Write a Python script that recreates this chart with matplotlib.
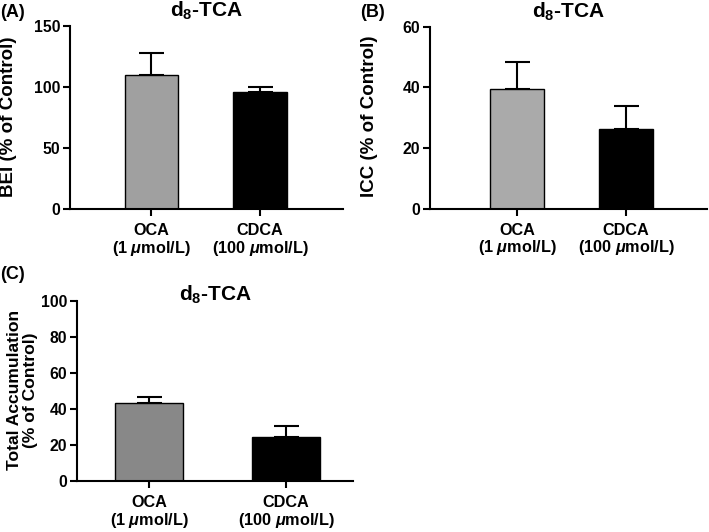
import matplotlib
matplotlib.use("Agg")
import matplotlib.pyplot as plt

plt.rcParams['font.family'] = ['Liberation Sans', 'DejaVu Sans']
plt.rcParams['font.weight'] = 'bold'
plt.rcParams['mathtext.fontset'] = 'custom'
plt.rcParams['mathtext.rm'] = 'Liberation Sans:bold'
plt.rcParams['mathtext.bf'] = 'Liberation Sans:bold'
plt.rcParams['mathtext.it'] = 'Liberation Sans:italic:bold'
plt.rcParams['mathtext.default'] = 'bf'

categories = ["OCA\n(1 $\\mathit{μ}$mol/L)", "CDCA\n(100 $\\mathit{μ}$mol/L)"]
title = "d$_{8}$-TCA"

bei_mean = [109.5, 96.0]
bei_sem = [18.0, 4.3]
icc_mean = [39.5, 26.3]
icc_sem = [9.0, 7.6]
tot_mean = [43.5, 24.4]
tot_sem = [3.2, 6.2]

W, H = 709, 532
fig = plt.figure(figsize=(W / 100, H / 100), dpi=100)


def px(x, y):
    return x / W, 1 - y / H


panels = [
    dict(box=(70, 26, 343, 209), mean=bei_mean, sem=bei_sem,
         ylim=(0, 150), yticks=[0, 50, 100, 150], xlim=(-0.751, 1.765), width=0.49,
         colors=['#a0a0a0', '#000000'], ylabel="BEI (% of Control)", ylfs=13.5,
         ylx=9, tag="(A)", tagxy=(0, 12.5), title_base=17),
    dict(box=(430, 26.7, 707, 208.7), mean=icc_mean, sem=icc_sem,
         ylim=(0, 60), yticks=[0, 20, 40, 60], xlim=(-0.798, 1.743), width=0.495,
         colors=['#aaaaaa', '#000000'], ylabel="ICC (% of Control)", ylfs=13.5,
         ylx=369, tag="(B)", tagxy=(360, 12.5), title_base=18),
    dict(box=(77, 300.7, 353, 481.3), mean=tot_mean, sem=tot_sem,
         ylim=(0, 100), yticks=[0, 20, 40, 60, 80, 100], xlim=(-0.526, 1.489), width=0.496,
         colors=['#888888', '#000000'], ylabel="Total Accumulation\n(% of Control)", ylfs=12.6,
         ylx=22.5, tag="(C)", tagxy=(0, 274.5), title_base=301),
]

for p in panels:
    x0, y0, x1, y1 = p['box']
    ax = fig.add_axes([x0 / W, 1 - y1 / H, (x1 - x0) / W, (y1 - y0) / H])
    x = [0, 1]
    ax.errorbar(x, p['mean'], yerr=[[0, 0], p['sem']], fmt='none', ecolor='black',
                elinewidth=1.5, capsize=9, capthick=1.5, zorder=1)
    ax.bar(x, p['mean'], width=p['width'], color=p['colors'], edgecolor='black',
           linewidth=1.0, zorder=2)
    ax.set_xlim(*p['xlim'])
    ax.set_ylim(*p['ylim'])
    ax.set_yticks(p['yticks'])
    ax.set_xticks(x)
    ax.set_xticklabels(categories, fontsize=11.7, fontweight='bold', linespacing=1.05)
    ax.tick_params(axis='y', labelsize=11.3, width=1.5, length=5, direction='out', pad=2)
    ax.tick_params(axis='x', width=1.5, length=5, direction='out', pad=5)
    for t in ax.get_yticklabels():
        t.set_fontweight('bold')
    for s in ['top', 'right']:
        ax.spines[s].set_visible(False)
    for s in ['left', 'bottom']:
        ax.spines[s].set_linewidth(1.5)
    cx = (x0 + x1) / 2
    fig.text(*px(cx, p['title_base']), title, fontsize=15, fontweight='bold',
             ha='center', va='baseline')
    fig.text(*px(p['ylx'], (y0 + y1) / 2 - 1), p['ylabel'], fontsize=p['ylfs'],
             fontweight='bold', rotation=90, ha='center', va='center',
             linespacing=1.15, multialignment='center')
    fig.text(*px(*p['tagxy']), p['tag'], fontsize=13, fontweight='bold',
             ha='left', va='center')

fig.savefig("out.png", dpi=100)
